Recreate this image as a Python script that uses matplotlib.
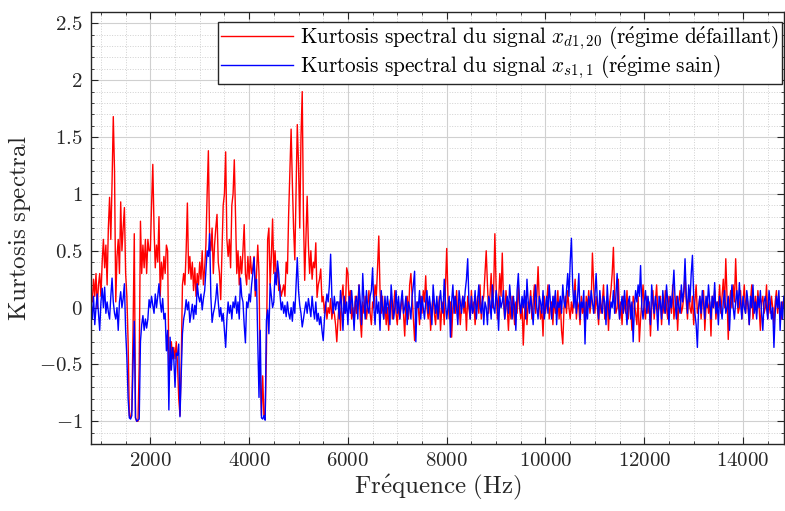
import numpy as np
import matplotlib
matplotlib.use("Agg")
import matplotlib.pyplot as plt
from matplotlib.ticker import MultipleLocator, FuncFormatter

plt.rcParams['font.family'] = 'serif'
plt.rcParams['font.serif'] = ['cmr10']
plt.rcParams['mathtext.fontset'] = 'cm'
plt.rcParams['axes.formatter.use_mathtext'] = True

# Frequency grid (Hz): start and step of the spectral bins
f_start = 800
f_step = 25

# Spectral kurtosis, faulty regime (x_{d1,20})
kurt_defaut = [
    0.15, 0.05, 0.25, 0.10, 0.30, 0.00, 0.20, 0.30, 0.10, 0.40,
    0.60, 0.35, 0.55, 0.20, 0.70, 0.97, 0.60, 1.10, 1.68, 1.20,
    0.05, 0.45, 0.60, 0.30, 0.93, 0.50, 0.70, 0.88, 0.30, 0.10,
    -0.30, -0.95, -0.97, -0.90, -0.20, 0.65, -0.97, -1.00, -1.00, -0.50,
    0.76, 0.30, 0.55, 0.35, 0.60, 0.30, 0.60, 0.50, 0.50, 0.90,
    1.26, 0.70, 0.35, 0.55, 0.40, 0.80, 0.10, 0.40, 0.25, 0.45,
    0.30, 0.55, 0.50, -0.50, -0.55, -0.30, -0.45, -0.35, -0.45, -0.30,
    -0.50, -0.80, -0.95, -0.50, 0.20, 0.30, 0.20, 0.50, 0.92, 0.30,
    0.45, 0.25, 0.40, 0.15, 0.35, 0.10, 0.30, 0.20, 0.40, 0.25,
    0.50, 0.20, 0.35, 0.55, 1.00, 1.38, 0.60, 0.50, 0.70, 0.30,
    0.55, 0.70, 0.82, 0.40, 0.30, 0.07, 0.50, 0.90, 1.00, 1.37,
    0.60, 0.45, 0.60, 0.35, 0.90, 1.00, 1.30, 0.80, 0.30, 0.50,
    0.20, 0.45, 0.30, 0.50, 0.73, 0.30, 0.20, 0.45, 0.25, 0.45,
    0.30, 0.35, 0.45, 0.10, 0.30, 0.55, 0.30, -0.60, -0.95, -0.60,
    -0.97, -0.95, -0.40, 0.60, 0.70, 0.20, 0.45, 0.78, 0.30, 0.50,
    0.25, 0.35, 0.15, 0.20, 0.10, 0.15, 0.20, 0.10, 0.40, 0.30,
    0.82, 1.20, 1.57, 1.10, 0.70, 0.42, 1.00, 1.61, 1.26, 0.70,
    1.50, 1.90, 0.80, 0.24, 0.60, 0.98, 0.55, 0.30, 0.50, 0.25,
    0.40, 0.35, 0.57, 0.09, 0.20, 0.25, 0.34, 0.05, 0.10, -0.05,
    0.05, -0.10, 0.00, -0.05, 0.08, -0.10, 0.00, -0.05, -0.15, -0.30,
    -0.10, 0.05, -0.20, 0.10, 0.20, -0.05, 0.00, 0.35, 0.30, 0.05,
    0.15, -0.10, 0.00, -0.15, 0.10, -0.05, 0.05, 0.20, -0.10, -0.26,
    0.05, -0.05, 0.10, -0.10, 0.00, 0.15, -0.05, -0.15, 0.05, 0.00,
    0.20, 0.10, 0.35, 0.63, 0.15, -0.05, 0.10, -0.10, 0.05, -0.15,
    0.00, -0.20, 0.05, 0.10, -0.10, 0.00, 0.15, -0.05, -0.15, 0.05,
    -0.10, 0.00, 0.10, -0.05, -0.25, 0.05, 0.10, -0.10, 0.20, 0.30,
    0.10, -0.10, -0.29, -0.05, 0.05, 0.00, -0.15, 0.10, -0.05, 0.15,
    0.05, 0.28, 0.00, -0.10, 0.05, -0.20, 0.00, 0.10, -0.05, -0.15,
    0.05, -0.10, 0.10, -0.20, 0.00, 0.05, -0.15, 0.20, 0.52, 0.10,
    -0.10, 0.05, -0.26, 0.00, 0.10, -0.05, 0.15, -0.10, 0.05, -0.15,
    0.00, 0.10, -0.05, 0.05, -0.20, 0.10, 0.00, -0.10, 0.15, -0.05,
    0.05, -0.15, 0.00, 0.10, -0.05, 0.20, -0.10, 0.05, 0.10, 0.30,
    0.50, 0.20, -0.05, 0.10, 0.30, 0.00, 0.15, 0.65, 0.20, -0.10,
    0.05, 0.30, 0.10, 0.48, 0.05, -0.10, 0.15, 0.00, -0.20, 0.05,
    -0.10, 0.10, 0.00, -0.15, 0.05, -0.05, 0.20, 0.00, -0.10, 0.05,
    -0.33, -0.05, 0.10, -0.15, 0.05, 0.00, 0.15, -0.10, 0.05, 0.20,
    -0.05, 0.10, 0.36, 0.05, -0.10, 0.00, -0.25, 0.10, -0.05, 0.05,
    0.20, -0.10, 0.00, 0.05, -0.15, 0.10, -0.05, 0.00, 0.15, -0.10,
    0.05, -0.20, -0.32, 0.00, 0.10, -0.05, 0.15, 0.00, -0.10, 0.05,
    -0.05, 0.10, 0.25, -0.10, 0.05, 0.00, -0.15, 0.10, -0.05, 0.05,
    -0.20, 0.10, 0.00, 0.15, -0.05, 0.05, 0.48, 0.20, -0.05, 0.10,
    0.00, -0.15, 0.10, -0.05, 0.05, 0.20, -0.10, 0.00, 0.10, -0.20,
    0.05, 0.15, 0.30, 0.53, 0.10, -0.05, 0.00, 0.25, -0.10, 0.05,
    -0.15, 0.10, 0.00, -0.05, 0.15, -0.10, 0.05, 0.00, -0.20, 0.10,
    0.05, -0.05, -0.15, 0.10, -0.30, -0.10, 0.05, 0.20, 0.00, -0.10,
    0.10, -0.05, 0.05, -0.25, 0.00, 0.15, -0.10, 0.05, 0.20, -0.05,
    0.00, 0.10, -0.15, 0.05, -0.05, 0.15, 0.00, -0.10, 0.10, 0.05,
    -0.05, 0.20, -0.10, 0.00, 0.10, -0.20, 0.05, 0.15, -0.05, 0.00,
    0.10, 0.29, 0.05, -0.10, 0.15, 0.00, -0.05, 0.10, -0.15, 0.05,
    0.20, -0.05, 0.00, 0.10, -0.10, 0.05, 0.15, -0.20, 0.00, 0.10,
    -0.05, 0.05, -0.25, 0.10, 0.00, 0.15, -0.10, 0.05, 0.00, 0.20,
    -0.05, 0.10, 0.25, 0.00, 0.43, 0.10, -0.28, 0.05, 0.15, 0.00,
    0.20, 0.05, 0.43, 0.10, -0.05, 0.00, 0.15, -0.10, 0.05, 0.20,
    -0.05, 0.10, 0.00, -0.15, 0.05, 0.20, -0.10, 0.00, 0.10, -0.05,
    0.15, 0.00, -0.20, 0.05, 0.10, -0.05, 0.00, 0.20, -0.10, 0.05,
    -0.05, 0.10, 0.00, -0.15, 0.05, 0.15, -0.05, 0.10, 0.00, -0.10,
    0.05, 0.00,
]

# Spectral kurtosis, healthy regime (x_{s1,1})
kurt_sain = [
    0.05, -0.10, 0.10, -0.15, 0.00, 0.12, -0.05, -0.20, 0.05, 0.17,
    0.00, 0.18, -0.05, 0.05, -0.04, -0.10, 0.10, 0.26, 0.05, -0.05,
    -0.10, 0.00, -0.20, 0.05, 0.14, 0.00, 0.08, 0.21, -0.20, -0.44,
    -0.80, -0.97, -0.98, -0.95, -0.50, -0.12, -0.97, -1.00, -0.99, -0.98,
    -0.30, -0.15, -0.07, -0.20, -0.10, -0.18, -0.10, 0.07, 0.00, 0.10,
    0.02, -0.05, 0.12, 0.00, 0.10, 0.21, 0.05, -0.04, 0.08, -0.10,
    -0.05, -0.38, -0.20, -0.90, -0.26, -0.55, -0.35, -0.45, -0.70, -0.40,
    -0.42, -0.32, -0.96, -0.60, -0.23, -0.10, -0.04, 0.07, -0.02, 0.05,
    -0.13, -0.05, 0.03, -0.10, 0.02, -0.06, 0.21, 0.10, 0.05, 0.12,
    -0.02, 0.08, 0.15, 0.32, 0.50, 0.45, 0.65, 0.10, -0.13, -0.05,
    0.00, 0.08, 0.21, 0.05, -0.08, 0.00, -0.12, -0.05, -0.20, -0.35,
    -0.10, 0.05, -0.05, 0.02, -0.10, 0.05, 0.00, 0.10, -0.05, 0.05,
    -0.10, 0.26, 0.10, 0.05, -0.15, -0.31, 0.05, 0.00, 0.12, 0.05,
    0.20, 0.30, 0.44, 0.15, 0.25, -0.30, -0.79, -0.20, -0.97, -0.98,
    -0.95, -0.99, -0.11, -0.02, -0.23, 0.21, 0.10, 0.00, 0.05, 0.31,
    0.20, 0.41, 0.30, 0.12, -0.02, 0.05, -0.05, 0.02, -0.08, 0.05,
    -0.05, -0.10, 0.00, -0.12, 0.05, -0.05, 0.20, 0.44, 0.15, 0.02,
    -0.05, -0.17, -0.10, -0.02, 0.05, -0.05, 0.08, 0.00, -0.08, 0.10,
    -0.02, -0.10, 0.05, -0.12, -0.05, -0.15, -0.08, -0.20, -0.29, -0.10,
    0.02, 0.12, 0.05, 0.20, 0.47, 0.10, -0.05, 0.10, -0.02, 0.05,
    0.05, -0.10, 0.15, 0.00, -0.20, 0.10, -0.05, 0.05, -0.15, 0.10,
    -0.05, 0.15, 0.00, -0.20, 0.05, 0.10, -0.10, 0.20, 0.05, -0.15,
    0.30, 0.05, -0.10, 0.15, 0.00, -0.05, 0.10, 0.15, 0.35, 0.00,
    -0.15, 0.10, -0.05, 0.05, -0.20, 0.15, 0.00, -0.10, 0.10, -0.05,
    0.10, 0.00, -0.15, 0.20, 0.05, -0.10, 0.00, 0.15, -0.05, 0.10,
    -0.10, 0.05, 0.15, -0.05, 0.00, 0.10, -0.15, 0.05, 0.00, -0.10,
    0.10, 0.20, 0.32, -0.30, 0.05, 0.00, 0.15, -0.10, 0.10, 0.00,
    -0.10, 0.05, 0.15, -0.05, 0.10, 0.00, -0.15, 0.20, 0.05, -0.05,
    0.10, -0.10, 0.05, 0.15, 0.00, -0.05, 0.25, 0.05, -0.10, 0.00,
    0.10, -0.26, 0.05, 0.20, -0.05, 0.10, 0.00, -0.15, 0.15, 0.05,
    -0.05, 0.10, 0.00, 0.15, 0.25, 0.43, 0.05, -0.10, 0.10, -0.05,
    0.00, 0.15, -0.10, 0.05, 0.20, 0.00, -0.05, 0.10, -0.15, 0.05,
    0.00, -0.15, 0.10, 0.05, -0.10, 0.20, 0.00, -0.05, 0.15, 0.05,
    -0.20, 0.10, 0.00, 0.05, 0.15, -0.10, 0.00, 0.10, -0.05, 0.20,
    0.05, -0.10, 0.10, 0.00, -0.20, 0.15, 0.30, 0.05, -0.05, 0.10,
    0.00, 0.15, -0.10, 0.25, 0.05, -0.05, 0.10, 0.00, -0.15, 0.05,
    0.20, 0.00, -0.10, 0.10, 0.05, -0.05, 0.15, -0.10, 0.00, 0.10,
    -0.05, 0.20, 0.05, -0.10, 0.10, 0.00, 0.15, -0.15, 0.05, 0.00,
    0.10, -0.05, 0.20, 0.05, 0.00, 0.15, 0.30, 0.10, 0.40, 0.61,
    0.20, 0.00, 0.15, -0.05, 0.10, 0.30, -0.10, 0.05, 0.00, 0.15,
    -0.32, 0.05, -0.10, 0.10, 0.00, 0.15, 0.05, -0.05, 0.10, 0.30,
    0.05, -0.10, 0.15, 0.00, -0.05, 0.10, 0.05, -0.15, 0.20, 0.00,
    -0.10, 0.05, 0.00, 0.15, -0.05, 0.10, 0.30, 0.05, -0.10, 0.00,
    0.10, -0.05, 0.15, 0.00, -0.15, 0.05, 0.10, -0.10, 0.05, -0.30,
    0.00, 0.15, 0.05, 0.20, 0.10, 0.37, 0.00, -0.10, 0.05, 0.15,
    -0.05, 0.10, 0.00, -0.15, 0.20, 0.05, -0.05, 0.10, 0.00, -0.20,
    0.10, 0.05, -0.10, 0.15, 0.00, -0.05, 0.20, 0.05, -0.15, 0.10,
    0.00, 0.15, 0.33, 0.05, -0.10, 0.10, 0.00, -0.05, 0.20, 0.05,
    0.15, 0.43, 0.10, -0.05, 0.20, 0.05, 0.30, 0.46, 0.10, -0.05,
    -0.15, -0.35, 0.00, 0.10, -0.05, 0.15, 0.05, -0.10, 0.10, 0.00,
    0.20, 0.05, -0.10, 0.10, 0.00, 0.22, -0.05, 0.05, -0.15, 0.10,
    0.00, -0.10, 0.05, 0.15, -0.05, 0.00, 0.10, -0.20, 0.05, 0.20,
    0.00, -0.10, 0.05, 0.15, 0.00, 0.22, 0.05, -0.10, 0.10, 0.00,
    -0.05, 0.15, 0.05, -0.15, 0.10, 0.00, 0.20, -0.05, 0.05, -0.10,
    0.10, 0.00, 0.15, -0.05, -0.20, 0.05, 0.10, 0.00, -0.10, 0.15,
    0.05, -0.10, 0.00, -0.35, -0.05, 0.10, 0.00, 0.15, -0.20, 0.05,
    -0.10, 0.10,
]

n = min(len(kurt_defaut), len(kurt_sain))
freq = f_start + f_step * np.arange(n)

label_defaut = (r'$\mathrm{Kurtosis\ spectral\ du\ signal\ }x_{d1,20}'
                r'\mathrm{\ (r\acute{e}gime\ d\acute{e}faillant)}$')
label_sain = (r'$\mathrm{Kurtosis\ spectral\ du\ signal\ }x_{s1,1}'
              r'\mathrm{\ (r\acute{e}gime\ sain)}$')

fig = plt.figure(figsize=(7.85, 5.11), dpi=100)
ax = fig.add_axes([0.116, 0.131, 0.8825, 0.8455])

ax.plot(freq, kurt_defaut[:n], color=(1, 0, 0), lw=1.0, label=label_defaut)
ax.plot(freq, kurt_sain[:n], color=(0, 0, 1), lw=1.0, label=label_sain)

ax.set_xlim(freq[0], freq[-1])
ax.set_ylim(-1.2, 2.6)

ax.xaxis.set_major_locator(MultipleLocator(2000))
ax.xaxis.set_minor_locator(MultipleLocator(500))
ax.yaxis.set_major_locator(MultipleLocator(0.5))
ax.yaxis.set_minor_locator(MultipleLocator(0.1))

fmt = FuncFormatter(lambda v, p: '$%s$' % ('%g' % v))
ax.xaxis.set_major_formatter(fmt)
ax.yaxis.set_major_formatter(fmt)

ax.grid(which='major', color='#d0d0d0', lw=0.8, ls='-')
ax.grid(which='minor', color='#d0d0d0', lw=0.7, ls=':')
ax.set_axisbelow(True)

ax.tick_params(which='both', direction='in', top=True, right=True,
               colors='#262626', labelcolor='#262626')
ax.tick_params(which='major', length=5, width=0.8, labelsize=15, pad=6)
ax.tick_params(which='minor', length=2.5, width=0.6)
for s in ax.spines.values():
    s.set_color('#262626')
    s.set_linewidth(1.0)

ax.set_xlabel(r'$\mathrm{Fr\acute{e}quence\ (Hz)}$', fontsize=18, color='#262626', labelpad=2)
ax.set_ylabel(r'$\mathrm{Kurtosis\ spectral}$', fontsize=18, color='#262626', labelpad=4)

leg = ax.legend(loc='upper right', bbox_to_anchor=(0.997, 0.977), borderaxespad=0,
                fontsize=15.3, fancybox=False, framealpha=1, edgecolor='#262626',
                handlelength=3.4, handletextpad=0.3, borderpad=0.15, labelspacing=0.05)
leg.get_frame().set_linewidth(1.0)

fig.savefig('out.png', dpi=100)
